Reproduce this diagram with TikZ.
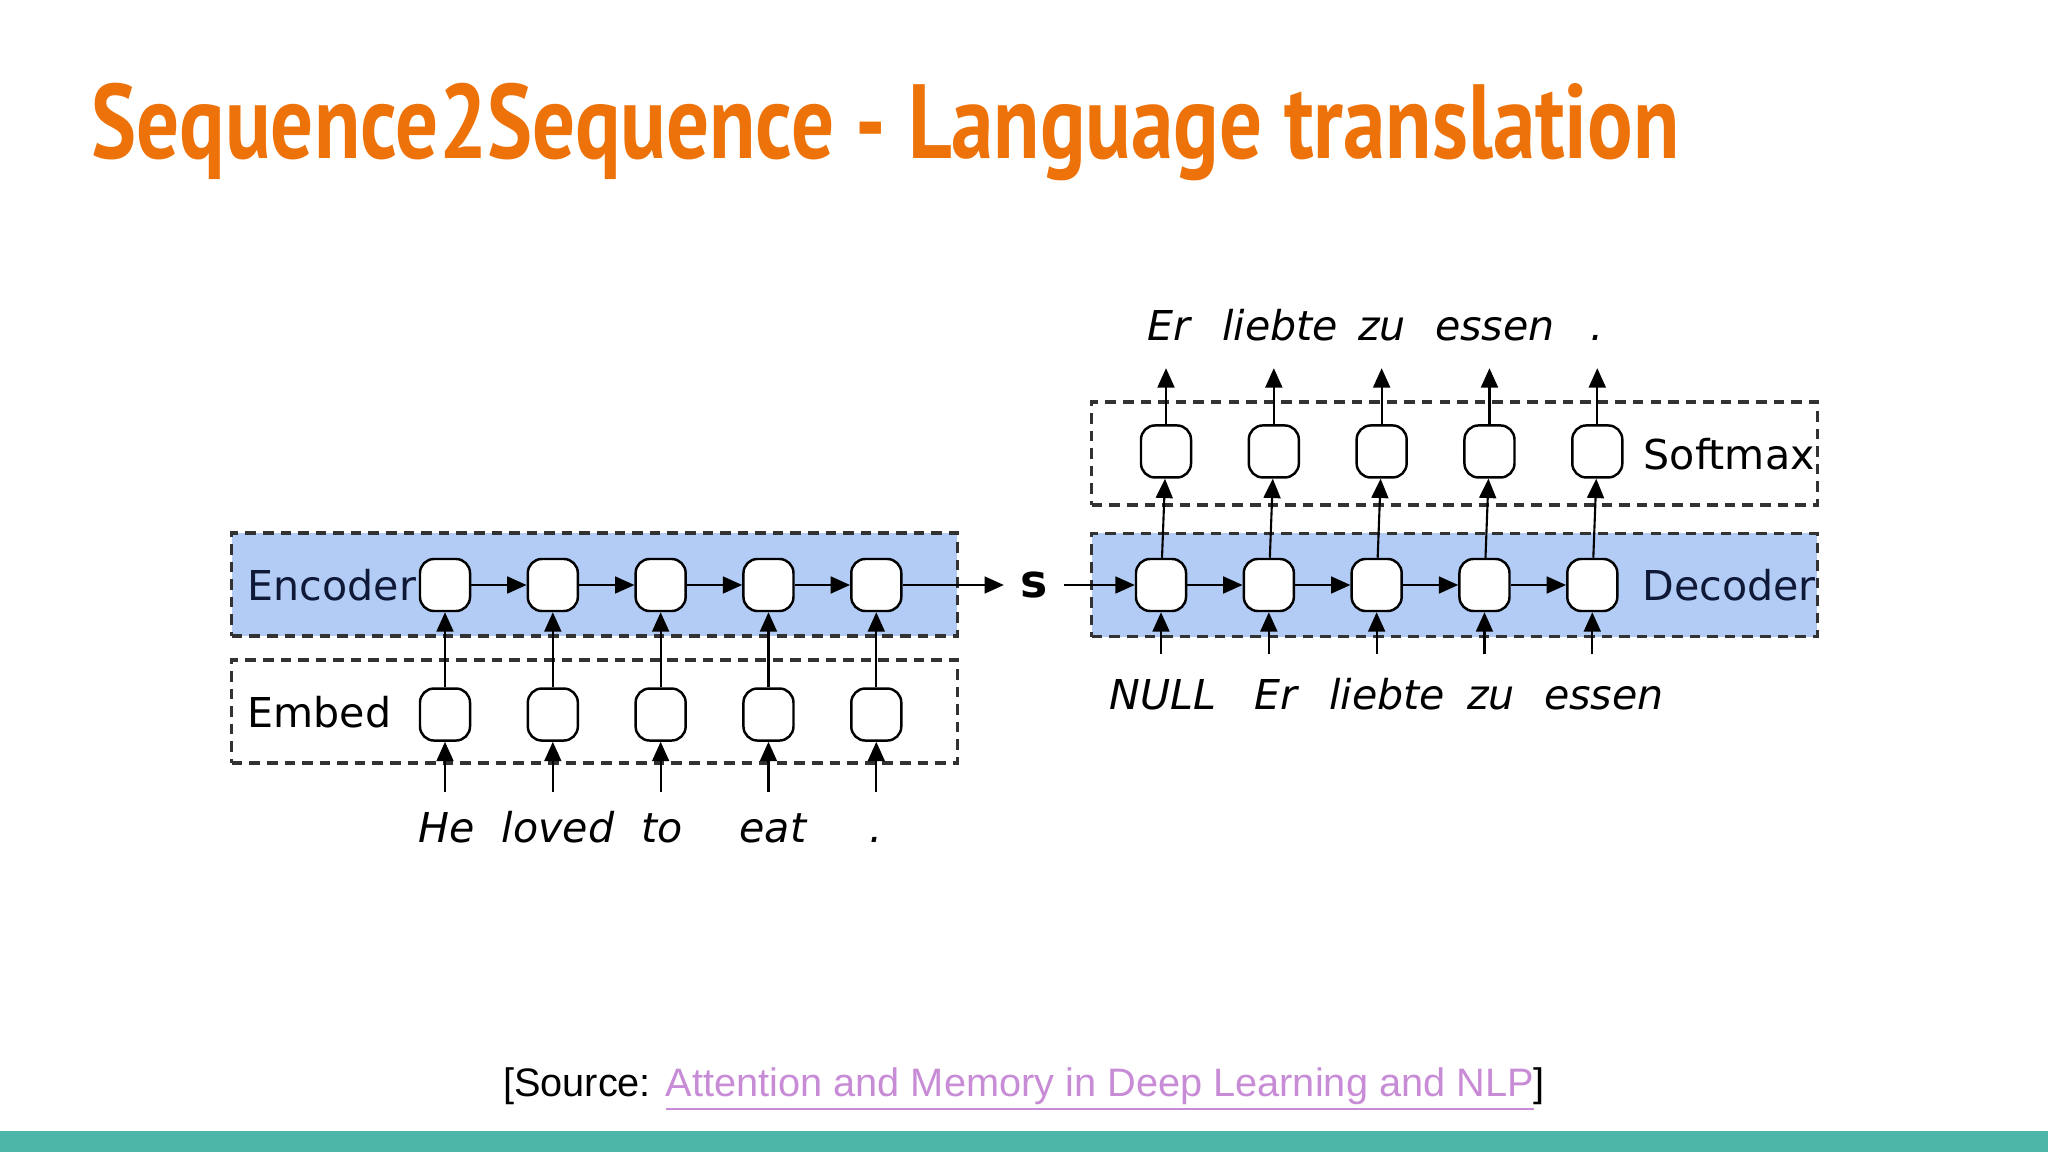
\documentclass[tikz,border=0pt]{standalone}
\usepackage{graphicx}
\usepackage{fontspec}
\setmainfont{DejaVu Sans}[ItalicFont={DejaVu Sans Oblique}, BoldFont={DejaVu Sans Bold}]
\newfontfamily\titlefont{PT Sans}
\newfontfamily\srcfont{Liberation Sans}
\usepackage{tikz}
\usetikzlibrary{arrows.meta, positioning}
\definecolor{s2s-orange}{RGB}{238, 114, 10}
\definecolor{s2s-blue}{RGB}{178, 204, 245}
\definecolor{s2s-navy}{RGB}{15, 25, 55}
\definecolor{s2s-dash}{RGB}{50, 50, 50}
\definecolor{s2s-teal}{RGB}{77, 182, 168}
\definecolor{s2s-link}{RGB}{200, 140, 215}

\begin{document}
\begin{tikzpicture}[x=0.01cm, y=-0.01cm,
    cell/.style={draw, fill=white, rounded corners=4pt, line width=0.7pt,
                 minimum width=0.5cm, minimum height=0.52cm, inner sep=0pt},
    layer/.style={draw=s2s-dash, dash pattern=on 3pt off 2pt, line width=0.9pt,
                  minimum width=7.25cm, minimum height=1.03cm, inner sep=0pt},
    arr/.style={-{Triangle[length=5.5pt, width=4.8pt]}, line width=0.6pt},
    lbl/.style={anchor=west, inner sep=0pt, font=\fontsize{11.7}{14}\selectfont},
    word/.style={anchor=base, inner sep=0pt, font=\fontsize{11.7}{14}\selectfont\itshape}
  ]
  \useasboundingbox (0,0) rectangle (2048,1152);
  \fill[s2s-teal] (0,1131) rectangle (2048,1152);

  \node[anchor=base west, inner sep=0pt, text=s2s-orange] (title) at (91,159)
       {\titlefont\bfseries\fontsize{30}{36}\selectfont
        \scalebox{0.806}[1]{Sequence2Sequence - Language translation}};

  % layers
  \node[layer, fill=s2s-blue] (encbox) at (594.5,584.5) {};
  \node[layer] (embbox) at (594.5,711.5) {};
  \node[layer, fill=s2s-blue] (decbox) at (1454.5,585) {};
  \node[layer] (smbox) at (1454.5,453.5) {};

  \node[lbl, text=s2s-navy] (enclbl) at (247,585) {Encoder};
  \node[lbl] (emblbl) at (247,712) {Embed};
  \node[lbl, text=s2s-navy] (declbl) at (1642,585) {Decoder};
  \node[lbl] (smlbl) at (1643,454) {Softmax};

  % encoder side
  \node[cell] (enc1) at (445,585) {};
  \foreach \i [count=\j] in {2,...,5}
    \node[cell, right=0.553cm of enc\j] (enc\i) {};
  \foreach \i in {1,...,5} {
    \node[cell, below=0.75cm of enc\i] (emb\i) {};
    \coordinate[below=0.5cm of emb\i.south] (inp\i);
    \draw[arr] (inp\i) -- (emb\i);
    \draw[arr] (emb\i) -- (enc\i);
  }
  \foreach \w/\x [count=\i] in {He/447, loved/558, to/662, eat/773, ./876}
    \node[word] (inw\i) at (\x,842) {\w};

  % summary vector
  \node[inner sep=4.5pt, font=\fontsize{13}{15}\selectfont\bfseries] (s) at (1034,585) {s};

  % decoder side
  \node[cell] (dec1) at (1161,585) {};
  \foreach \i [count=\j] in {2,...,5}
    \node[cell, right=0.553cm of dec\j] (dec\i) {};
  \foreach \i in {1,...,5} {
    \node[cell, above=0.79cm of dec\i, xshift=0.05cm] (sm\i) {};
    \coordinate[below=0.42cm of dec\i.south] (din\i);
    \coordinate[above=0.56cm of sm\i.north] (out\i);
    \draw[arr] (din\i) -- (dec\i);
    \draw[arr] (dec\i) -- (sm\i);
    \draw[arr] (sm\i) -- (out\i);
  }
  \foreach \w/\x [count=\i] in {NULL/1163, Er/1276, liebte/1387, zu/1491, essen/1604}
    \node[word] (dinw\i) at (\x,709) {\w};
  \foreach \w/\x [count=\i] in {Er/1169, liebte/1280, zu/1382, essen/1495, ./1597}
    \node[word] (outw\i) at (\x,341) {\w};

  \foreach \i/\j in {1/2, 2/3, 3/4, 4/5} {
    \draw[arr] (enc\i) -- (enc\j);
    \draw[arr] (dec\i) -- (dec\j);
  }
  \draw[arr] (enc5) -- (s);
  \draw[arr] (s) -- (dec1);

  \node[anchor=base, inner sep=0pt] (source) at (1024,1096)
       {\srcfont\fontsize{11.3}{13}\selectfont
        [Source: {\color{s2s-link}\underline{Attention and Memory in Deep Learning and NLP}}]};
\end{tikzpicture}
\end{document}
